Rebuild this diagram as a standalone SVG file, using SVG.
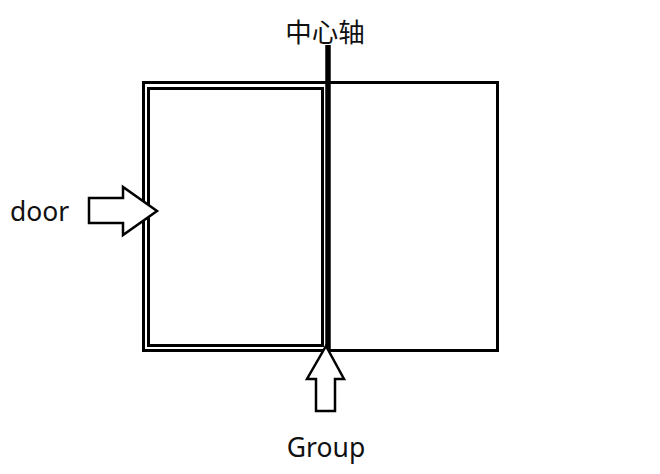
<svg xmlns="http://www.w3.org/2000/svg" width="660" height="474" viewBox="0 0 660 474">
<style>
.frame{fill:none;stroke:#000;stroke-width:3}
.arrow{fill:#fff;stroke:#000;stroke-width:2.5;stroke-linejoin:miter}
.lbl{font-family:"Noto Sans","Noto Sans CJK SC",sans-serif;font-size:26.5px;fill:#111}
.cjk{font-family:"Noto Sans CJK SC","Noto Sans",sans-serif;font-size:26.5px;fill:#111}
</style>
<rect width="660" height="474" fill="#fff"/>
<g id="group-box">
<rect class="frame" x="143.5" y="82.5" width="354" height="268"/>
</g>
<g id="door">
<rect class="frame" x="148.5" y="88.5" width="174" height="257"/>
</g>
<g id="axis">
<line x1="328" y1="45" x2="328" y2="350" stroke="#000" stroke-width="5.5"/>
<text class="cjk" x="325" y="42" text-anchor="middle">中心轴</text>
</g>
<g id="connectors">
<polygon class="arrow" points="89,198 123,198 123,187 157,211 123,235 123,223 89,223"/>
<polygon class="arrow" points="326,346 344,379 335,379 335,411 316,411 316,379 307,379"/>
</g>
<g id="labels">
<text class="lbl" x="10" y="221">door</text>
<text class="lbl" x="326" y="457" text-anchor="middle">Group</text>
</g>
</svg>
